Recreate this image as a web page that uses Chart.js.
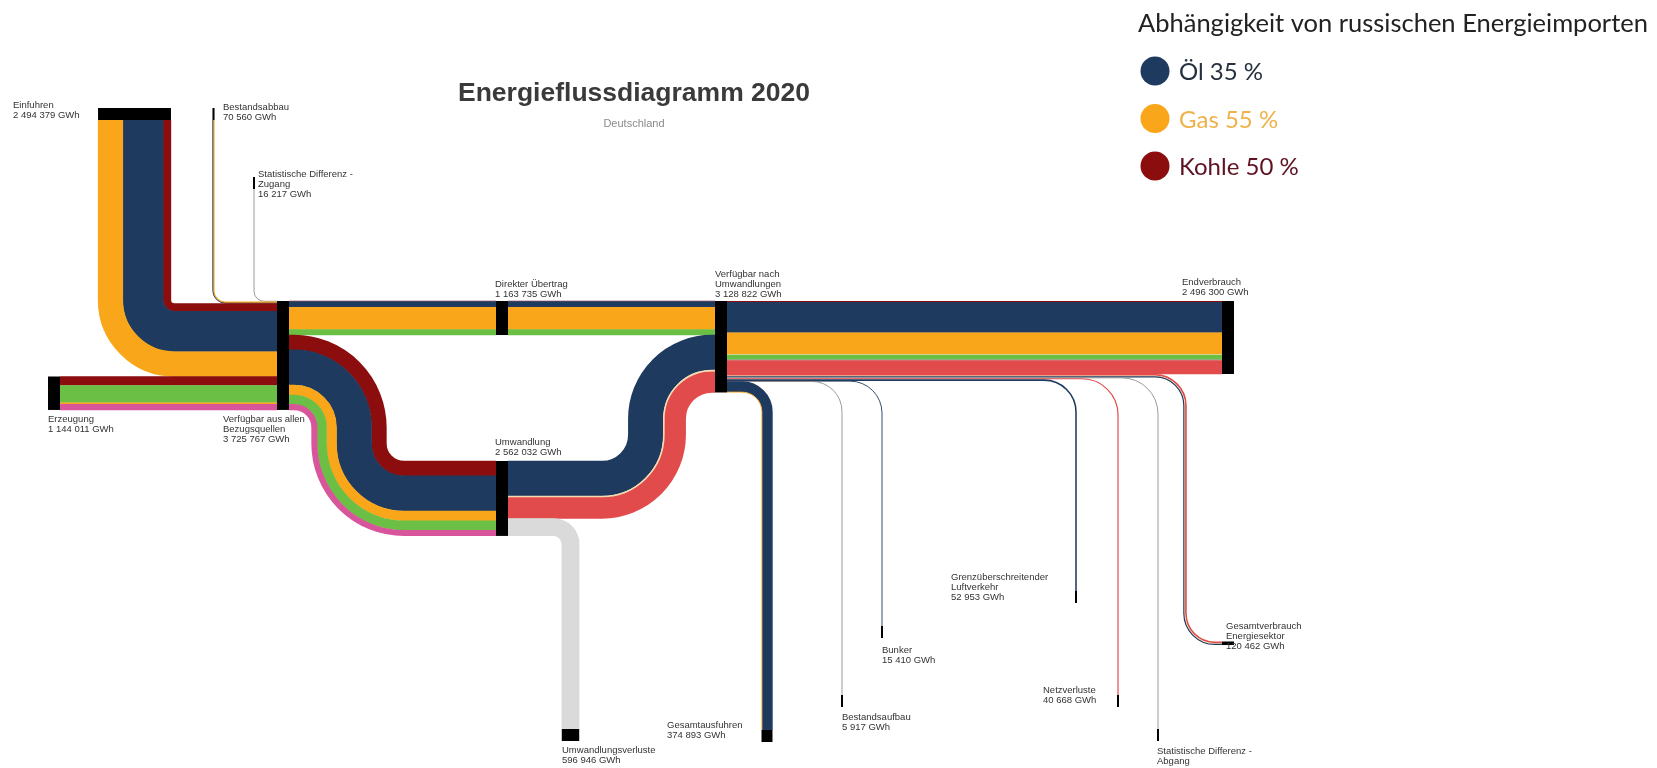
<!DOCTYPE html>
<html lang="de">
<head>
<meta charset="utf-8">
<title>Energieflussdiagramm 2020</title>
<script src="https://cdn.jsdelivr.net/npm/chart.js@4.4.0/dist/chart.umd.min.js"></script>
<style>
  html, body { margin: 0; padding: 0; background: #fff; }
  canvas { display: block; }
</style>
</head>
<body>
<canvas id="sankey" width="1657" height="768"></canvas>
<script>
// Energieträger und ihre Farben
const carriers = ['Öl', 'Gas', 'Kohle', 'Erneuerbare', 'Kernenergie', 'Strom', 'Fernwärme', 'Sonstige', 'Verluste'];
const carrierColors = ['#1e3a5f', '#f9a61a', '#8b0d0d', '#6cbf45', '#d9559b', '#e24b4b', '#f3dcae', '#8f8f8f', '#dadada'];

// Knoten (GWh)
const nodeIds = ['sdz', 'bab', 'ein', 'erz', 'vab', 'dir', 'umw', 'vnu', 'end', 'ver', 'aus', 'bau', 'bun', 'luf', 'net', 'sda', 'ens'];
const nodeLabels = [
  'Statistische Differenz -\nZugang', 'Bestandsabbau', 'Einfuhren', 'Erzeugung',
  'Verfügbar aus allen\nBezugsquellen', 'Direkter Übertrag', 'Umwandlung', 'Verfügbar nach\nUmwandlungen',
  'Endverbrauch', 'Umwandlungsverluste', 'Gesamtausfuhren', 'Bestandsaufbau', 'Bunker',
  'Grenzüberschreitender\nLuftverkehr', 'Netzverluste', 'Statistische Differenz -\nAbgang', 'Gesamtverbrauch\nEnergiesektor'
];
const nodeValues = [16217, 70560, 2494379, 1144011, 3725767, 1163735, 2562032, 3128822, 2496300, 596946, 374893, 5917, 15410, 52953, 40668, 22219, 120462];

// Flüsse: Quelle, Ziel, Mix nach Energieträger (GWh)
const flowFrom = ['sdz', 'bab', 'ein', 'erz', 'vab', 'vab', 'dir', 'umw', 'umw', 'vnu', 'vnu', 'vnu', 'vnu', 'vnu', 'vnu', 'vnu', 'vnu'];
const flowTo   = ['vab', 'vab', 'vab', 'vab', 'dir', 'umw', 'vnu', 'vnu', 'ver', 'end', 'ens', 'sda', 'net', 'luf', 'bun', 'bau', 'aus'];
const flowMix = [
  [['Sonstige', 16217]],
  [['Gas', 50000], ['Öl', 20560]],
  [['Kohle', 264379], ['Öl', 1380000], ['Gas', 850000]],
  [['Kohle', 305000], ['Erneuerbare', 585000], ['Gas', 55000], ['Kernenergie', 199011]],
  [['Kohle', 15000], ['Öl', 200000], ['Gas', 760000], ['Erneuerbare', 188735]],
  [['Kohle', 506000], ['Öl', 1200000], ['Gas', 340000], ['Erneuerbare', 321032], ['Kernenergie', 195000]],
  [['Kohle', 15000], ['Öl', 200000], ['Gas', 760000], ['Erneuerbare', 188735]],
  [['Öl', 1190000], ['Fernwärme', 60000], ['Strom', 715086]],
  [['Verluste', 596946]],
  [['Kohle', 40000], ['Öl', 1040000], ['Gas', 729300], ['Fernwärme', 36000], ['Erneuerbare', 153000], ['Sonstige', 36000], ['Strom', 462000]],
  [['Strom', 60462], ['Fernwärme', 20000], ['Öl', 40000]],
  [['Sonstige', 22219]],
  [['Strom', 40668]],
  [['Öl', 52953]],
  [['Öl', 15410]],
  [['Sonstige', 5917]],
  [['Öl', 350000], ['Gas', 24893]]
];

// Abhängigkeit von russischen Energieimporten
const russiaCarriers = ['Öl', 'Gas', 'Kohle'];
const russiaShares = [35, 55, 50];

// ---- Layout (Positionen in Bildeinheiten) ----
const GWH_PER_UNIT = 34200;
const BAR = 12;
const nodeLayout = {
  sdz: { dir: 'top', cx: 254, y: 177, label: [258, 170] },
  bab: { dir: 'top', cx: 213.5, y: 108, label: [223, 103] },
  ein: { dir: 'top', cx: 134.5, y: 108, label: [13, 101] },
  erz: { dir: 'v', x: 48, y: 376.5, label: [48, 415] },
  vab: { dir: 'v', x: 277, y: 301, label: [223, 415] },
  dir: { dir: 'v', x: 496, y: 301, label: [495, 280] },
  umw: { dir: 'v', x: 496, y: 461, label: [495, 438] },
  vnu: { dir: 'v', x: 715, y: 301, label: [715, 270] },
  end: { dir: 'v', x: 1222, y: 301, label: [1182, 278] },
  ver: { dir: 'bottom', cx: 570.5, y: 729, label: [562, 746] },
  aus: { dir: 'bottom', cx: 767, y: 730, label: [667, 721] },
  bau: { dir: 'bottom', cx: 842, y: 695, label: [842, 713] },
  bun: { dir: 'bottom', cx: 882, y: 626, label: [882, 646] },
  luf: { dir: 'bottom', cx: 1076, y: 591, label: [951, 573] },
  net: { dir: 'bottom', cx: 1118, y: 695, label: [1043, 686] },
  sda: { dir: 'bottom', cx: 1158, y: 729, label: [1157, 747], noValue: true },
  ens: { dir: 'v', x: 1222, y: 641.5, label: [1226, 622] }
};
// Biegeradius und ggf. x der senkrechten Strecke je Fluss
const flowRadius = [10, 12, 40, 0, 0, 55, 0, 55, 17, 0, 30, 36, 36, 32, 32, 30, 25];
const flowMidX   = [null, null, null, null, null, 349, null, 657, null, null, 1185, null, null, null, null, null, null];

const fmt = v => String(v).replace(/\B(?=(\d{3})+(?!\d))/g, ' ') + ' GWh';

function strokeBand(ctx, pts, radii, o, lw, color) {
  const n = pts.length;
  const dirs = [], norms = [];
  for (let i = 0; i < n - 1; i++) {
    const dx = pts[i + 1].x - pts[i].x, dy = pts[i + 1].y - pts[i].y;
    const len = Math.hypot(dx, dy) || 1;
    dirs.push({ x: dx / len, y: dy / len });
    norms.push({ x: dy / len, y: -dx / len });
  }
  ctx.beginPath();
  ctx.strokeStyle = color;
  ctx.lineWidth = lw;
  ctx.moveTo(pts[0].x + o * norms[0].x, pts[0].y + o * norms[0].y);
  for (let i = 1; i < n - 1; i++) {
    const cx = pts[i].x + o * (norms[i - 1].x + norms[i].x);
    const cy = pts[i].y + o * (norms[i - 1].y + norms[i].y);
    const nx = pts[i + 1].x + o * norms[i].x;
    const ny = pts[i + 1].y + o * norms[i].y;
    const cross = dirs[i - 1].x * dirs[i].y - dirs[i - 1].y * dirs[i].x;
    const rb = Math.max(0.5, cross > 0 ? radii + o : radii - o);
    ctx.arcTo(cx, cy, nx, ny, rb);
  }
  const last = pts[n - 1];
  ctx.lineTo(last.x + o * norms[n - 2].x, last.y + o * norms[n - 2].y);
  ctx.stroke();
}

const sankeyPlugin = {
  id: 'sankeyFlows',
  afterDraw(chart) {
    const { ctx, scales: { x, y } } = chart;
    const P = (a, b) => ({ x: x.getPixelForValue(a), y: y.getPixelForValue(b) });
    const len = v => Math.abs(y.getPixelForValue(v / GWH_PER_UNIT) - y.getPixelForValue(0));

    // Knotenbalken
    const rects = {};
    nodeIds.forEach((id, i) => {
      const L = nodeLayout[id];
      const l = Math.max(nodeValues[i] / GWH_PER_UNIT, 2);
      rects[id] = L.dir === 'v'
        ? { x: L.x, y: L.y, w: BAR, h: l, dir: 'v' }
        : { x: L.cx - l / 2, y: L.y, w: l, h: BAR, dir: L.dir, cx: L.cx };
    });

    // Gesamtbreiten je Knotenseite
    const flowW = flowMix.map(m => m.reduce((s, e) => s + e[1], 0) / GWH_PER_UNIT);
    const sumOut = {}, sumIn = {};
    flowFrom.forEach((id, i) => { sumOut[id] = (sumOut[id] || 0) + flowW[i]; });
    flowTo.forEach((id, i) => { sumIn[id] = (sumIn[id] || 0) + flowW[i]; });

    const outOff = {}, inOff = {};
    ctx.save();
    ctx.lineCap = 'butt';
    flowFrom.forEach((src, i) => {
      const tgt = flowTo[i];
      const wd = flowW[i];
      const rs = rects[src], rt = rects[tgt];
      const oo = outOff[src] || 0, io = inOff[tgt] || 0;
      outOff[src] = oo + wd; inOff[tgt] = io + wd;

      let S, T;
      if (rs.dir === 'v') S = { x: rs.x + rs.w, y: rs.y + oo + wd / 2, d: 'e' };
      else S = { x: rs.cx + sumOut[src] / 2 - oo - wd / 2, y: rs.y + rs.h, d: 's' };
      if (rt.dir === 'v') T = { x: rt.x, y: rt.y + io + wd / 2, d: 'e' };
      else T = { x: rt.cx + sumIn[tgt] / 2 - io - wd / 2, y: rt.y, d: 's' };

      let pts;
      if (S.d === 'e' && T.d === 'e') {
        if (flowMidX[i] !== null && Math.abs(S.y - T.y) > 0.5) {
          pts = [S, { x: flowMidX[i], y: S.y }, { x: flowMidX[i], y: T.y }, T];
        } else {
          pts = [S, { x: T.x, y: S.y }];
        }
      } else if (S.d === 's') {
        pts = [S, { x: S.x, y: T.y }, T];
      } else {
        pts = [S, { x: T.x, y: S.y }, T];
      }
      const px = pts.map(p => P(p.x, p.y));
      const wpx = len(wd * GWH_PER_UNIT);
      const r = len(flowRadius[i] * GWH_PER_UNIT);

      let cum = 0;
      flowMix[i].forEach(([c, v]) => {
        const bw = len(v);
        const o = wpx / 2 - cum - bw / 2;
        cum += bw;
        const lw = Math.max(bw, 0.9) + (bw > 2 ? 0.4 : 0);
        strokeBand(ctx, px, r, o, lw, carrierColors[carriers.indexOf(c)]);
      });
    });

    // Balken zeichnen
    ctx.fillStyle = '#000';
    nodeIds.forEach(id => {
      const r = rects[id];
      const a = P(r.x, r.y), b = P(r.x + r.w, r.y + r.h);
      ctx.fillRect(a.x, a.y, b.x - a.x, b.y - a.y);
    });

    // Knotenbeschriftung
    ctx.font = '9.5px "Liberation Sans", Arial, sans-serif';
    ctx.fillStyle = '#333';
    ctx.textBaseline = 'top';
    ctx.textAlign = 'left';
    nodeIds.forEach((id, i) => {
      const L = nodeLayout[id];
      const [lx, ly] = L.label;
      const lines = nodeLabels[i].split('\n');
      if (!L.noValue) lines.push(fmt(nodeValues[i]));
      lines.forEach((t, k) => {
        const p = P(lx, ly + k * 10);
        ctx.fillText(t, p.x, p.y);
      });
    });

    // Titel
    ctx.textAlign = 'center';
    ctx.textBaseline = 'alphabetic';
    ctx.fillStyle = '#3a3a3a';
    ctx.font = 'bold 26.5px "Liberation Sans", Arial, sans-serif';
    ctx.fillText('Energieflussdiagramm 2020', 634, 101);
    ctx.fillStyle = '#8a8a8a';
    ctx.font = '11px "Liberation Sans", Arial, sans-serif';
    ctx.fillText('Deutschland', 634, 127);

    // Legende
    ctx.textAlign = 'left';
    ctx.fillStyle = '#222';
    ctx.font = '25.5px Lato, "Open Sans", sans-serif';
    ctx.fillText('Abhängigkeit von russischen Energieimporten', 1138, 32);
    ctx.font = '24px Lato, "Open Sans", sans-serif';
    const textColors = ['#26303f', '#efb24a', '#5e1222'];
    russiaCarriers.forEach((c, k) => {
      const cy = 71 + k * 47.5;
      ctx.beginPath();
      ctx.fillStyle = carrierColors[carriers.indexOf(c)];
      ctx.arc(1155, cy, 14.5, 0, Math.PI * 2);
      ctx.fill();
      ctx.fillStyle = textColors[k];
      ctx.fillText(c + ' ' + russiaShares[k] + ' %', 1179, cy + 9);
    });
    ctx.restore();
  }
};

new Chart(document.getElementById('sankey'), {
  type: 'scatter',
  data: { datasets: [] },
  options: {
    responsive: false,
    animation: false,
    events: [],
    layout: { padding: 0 },
    plugins: { legend: { display: false }, tooltip: { enabled: false } },
    scales: {
      x: { type: 'linear', min: 0, max: 1657, display: false },
      y: { type: 'linear', min: 0, max: 768, reverse: true, display: false }
    }
  },
  plugins: [sankeyPlugin]
});
</script>
</body>
</html>
